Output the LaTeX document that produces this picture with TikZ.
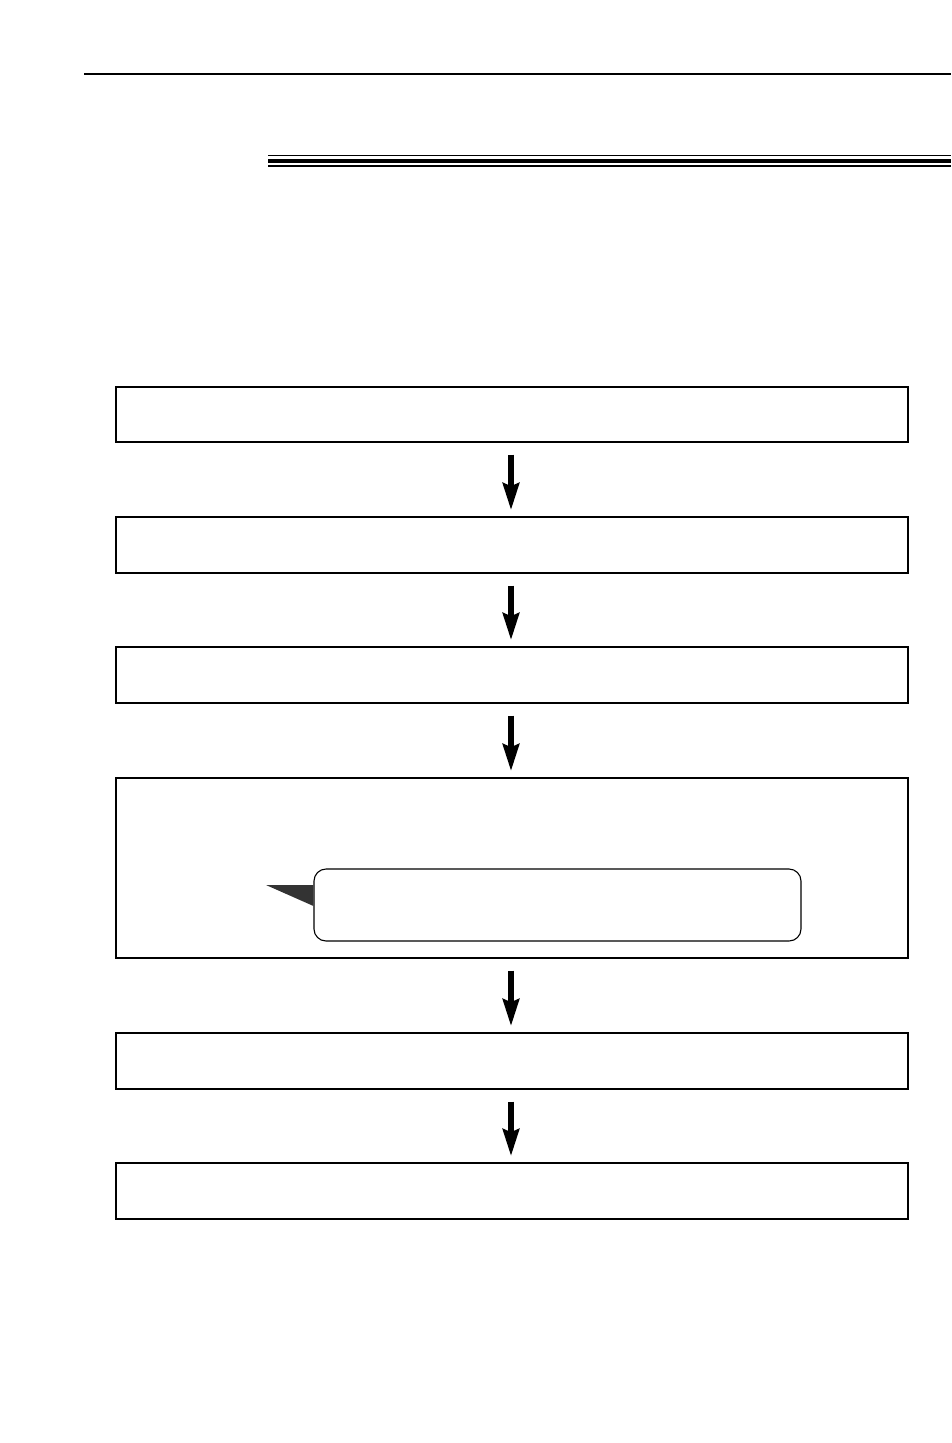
\documentclass[tikz,border=0pt]{standalone}
\usepackage{xcolor}
\usepackage{tikz}
\usetikzlibrary{arrows.meta}

\definecolor{taildark}{HTML}{333333}

\tikzset{
  stepbox/.style={draw, line width=1.4pt, minimum width=792pt, inner sep=0pt},
  notebox/.style={draw, line width=1.1pt, rounded corners=12pt, minimum width=487pt, minimum height=72pt, inner sep=0pt},
  flowarrow/.style={line width=6pt, -{Stealth[length=27pt, width=16pt, inset=3pt]}, shorten <=12pt, shorten >=6pt}
}

\begin{document}
\begin{tikzpicture}[x=1pt, y=-1pt]
  \useasboundingbox (0,0) rectangle (951,1443);
  % header rules
  \draw[line width=2.5pt] (84,74) -- (951,74);
  \draw[line width=1pt] (268,155.5) -- (951,155.5);
  \draw[line width=4pt] (268,160.7) -- (951,160.7);
  \draw[line width=2pt] (268,166) -- (951,166);
  % steps
  \node[stepbox, minimum height=55pt] (step1) at (512,414.5) {};
  \node[stepbox, minimum height=56pt] (step2) at (512,545) {};
  \node[stepbox, minimum height=56pt] (step3) at (512,675) {};
  \node[stepbox, minimum height=180pt] (step4) at (512,868) {};
  \node[stepbox, minimum height=56pt] (step5) at (512,1061) {};
  \node[stepbox, minimum height=56pt] (step6) at (512,1191) {};
  % callout inside step 4
  \node[notebox] (note) at (557.5,905) {};
  \coordinate (tailtip) at (266,885);
  \fill[taildark] (tailtip) -- (note.west |- tailtip) -- (note.west |- 0,906) -- cycle;
  % arrows
  \draw[flowarrow] (step1.south -| 511,0) -- (step2.north -| 511,0);
  \draw[flowarrow] (step2.south -| 511,0) -- (step3.north -| 511,0);
  \draw[flowarrow] (step3.south -| 511,0) -- (step4.north -| 511,0);
  \draw[flowarrow] (step4.south -| 511,0) -- (step5.north -| 511,0);
  \draw[flowarrow] (step5.south -| 511,0) -- (step6.north -| 511,0);
\end{tikzpicture}
\end{document}
